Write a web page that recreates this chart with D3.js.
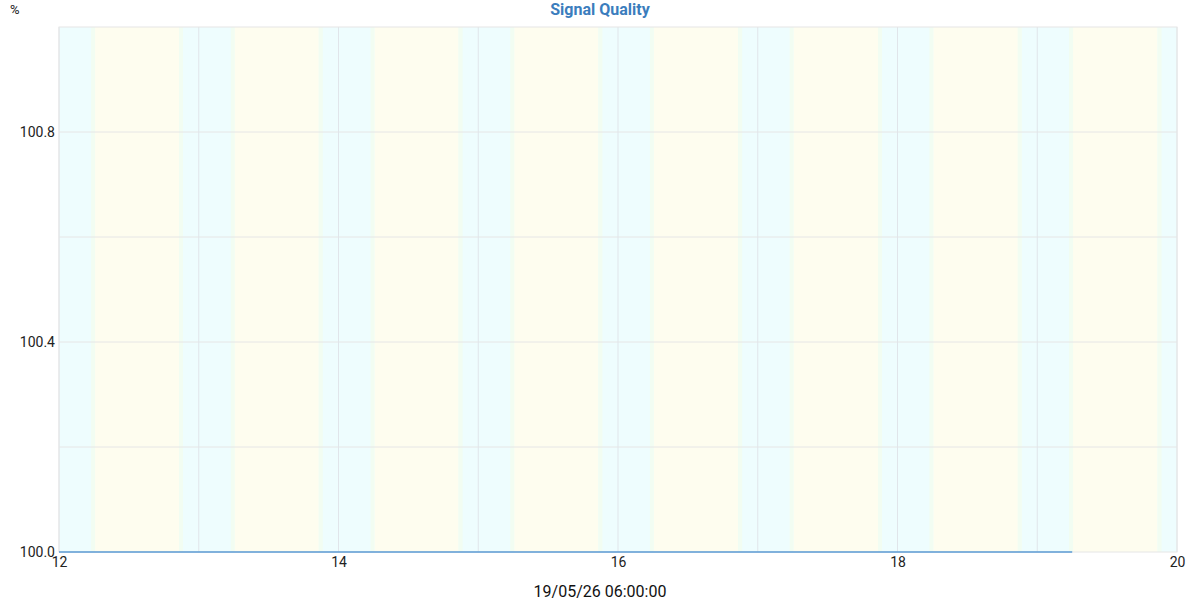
<!DOCTYPE html>
<html>
<head>
<meta charset="utf-8">
<script src="https://cdn.jsdelivr.net/npm/d3@7"></script>
<style>
  body { margin: 0; background: #fff; }
  svg { font-family: Roboto, "Noto Sans", sans-serif; }
</style>
</head>
<body>
<svg id="chart" width="1200" height="600"></svg>
<script>
// chart data
var title = 'Signal Quality';
var unit = '%';
var xLabel = '19/05/26 06:00:00';
var xDomain = ['2026-05-12T00:00:00', '2026-05-20T00:00:00'];
var xTickDays = ['2026-05-12', '2026-05-14', '2026-05-16', '2026-05-18', '2026-05-20'];
var yDomain = [100, 101];
var yLabelTicks = [100.0, 100.4, 100.8];
var yGridTicks = [100.2, 100.4, 100.6, 100.8];

// day/night bands (hours, local)
var bandDays = ['2026-05-11', '2026-05-12', '2026-05-13', '2026-05-14', '2026-05-15',
                '2026-05-16', '2026-05-17', '2026-05-18', '2026-05-19'];
var sunrise = [6.2, 6.2, 6.2, 6.2, 6.18, 6.17, 6.17, 6.16, 6.15];
var sunset = [20.6, 20.6, 20.62, 20.63, 20.63, 20.64, 20.65, 20.66, 20.67];

// series
var sampleTimes = ['2026-05-12T00:00:00', '2026-05-13T00:00:00', '2026-05-14T00:00:00',
                   '2026-05-15T00:00:00', '2026-05-16T00:00:00', '2026-05-17T00:00:00',
                   '2026-05-18T00:00:00', '2026-05-19T00:00:00', '2026-05-19T06:00:00'];
var quality = [100, 100, 100, 100, 100, 100, 100, 100, 100];

var margin = { top: 27, right: 23, bottom: 48, left: 59 };
var width = 1200 - margin.left - margin.right;
var height = 600 - margin.top - margin.bottom;

var svg = d3.select('#chart');
var defs = svg.append('defs');
defs.append('clipPath').attr('id', 'plot-clip')
  .append('rect').attr('width', width).attr('height', height);

var g = svg.append('g').attr('transform', 'translate(' + margin.left + ',' + margin.top + ')');

var parse = d3.isoParse;
var toDate = function(d) { return new Date(d + (d.length === 10 ? 'T00:00:00' : '')); };
var x = d3.scaleTime().domain(xDomain.map(toDate)).range([0, width]);
var y = d3.scaleLinear().domain(yDomain).range([height, 0]);

var night = '#eefdfe', day = '#fefdef', dusk = '#f2fdf2';

// background night
var bands = g.append('g').attr('clip-path', 'url(#plot-clip)');
bands.append('rect').attr('width', width).attr('height', height).attr('fill', night);

function at(dayStr, h) {
  return d3.timeMinute.offset(toDate(dayStr), Math.round(h * 60));
}

var fade = 4; // px of twilight blend
bandDays.forEach(function(dd, i) {
  var x0 = x(at(dd, sunrise[i]));
  var x1 = x(at(dd, sunset[i]));
  bands.append('rect').attr('x', x0 - fade).attr('width', fade)
    .attr('y', 0).attr('height', height).attr('fill', dusk);
  bands.append('rect').attr('x', x0).attr('width', x1 - x0)
    .attr('y', 0).attr('height', height).attr('fill', day);
  bands.append('rect').attr('x', x1).attr('width', fade)
    .attr('y', 0).attr('height', height).attr('fill', dusk);
});

// grid
var grid = g.append('g');
grid.selectAll('.hgrid').data(yGridTicks).enter().append('line')
  .attr('x1', 0).attr('x2', width)
  .attr('y1', function(d) { return y(d); }).attr('y2', function(d) { return y(d); })
  .attr('stroke', '#e6e6e6').attr('stroke-width', 1);
grid.selectAll('.vgrid').data(x.ticks(d3.timeDay.every(1))).enter().append('line')
  .attr('x1', function(d) { return x(d); }).attr('x2', function(d) { return x(d); })
  .attr('y1', 0).attr('y2', height)
  .attr('stroke', '#e0e5ea').attr('stroke-width', 1);

g.append('rect').attr('width', width).attr('height', height)
  .attr('fill', 'none').attr('stroke', '#e6e6e6').attr('stroke-width', 1);

// line
var line = d3.line()
  .x(function(d) { return x(d.t); })
  .y(function(d) { return y(d.v); });
var series = sampleTimes.map(function(t, i) { return { t: parse(t), v: quality[i] }; });
g.append('path').datum(series)
  .attr('d', line).attr('fill', 'none')
  .attr('stroke', '#5b9bd5').attr('stroke-width', 1.5);

// axes
var xAxis = d3.axisBottom(x).tickValues(xTickDays.map(toDate)).tickSize(0).tickPadding(5)
  .tickFormat(d3.timeFormat('%-d'));
var gx = g.append('g').attr('transform', 'translate(0,' + height + ')').call(xAxis);
gx.select('.domain').remove();
gx.selectAll('text').attr('font-size', 14).attr('fill', '#222').attr('font-family', 'Roboto');

var yAxis = d3.axisLeft(y).tickValues(yLabelTicks).tickSize(0).tickPadding(4)
  .tickFormat(d3.format('.1f'));
var gy = g.append('g').call(yAxis);
gy.select('.domain').remove();
gy.selectAll('text').attr('font-size', 14).attr('fill', '#222').attr('font-family', 'Roboto');

// labels
svg.append('text').attr('x', 600).attr('y', 15).attr('text-anchor', 'middle')
  .attr('font-size', 16).attr('font-weight', 'bold').attr('fill', '#3b7dbd')
  .text(title);
svg.append('text').attr('x', 10).attr('y', 14)
  .attr('font-size', 13).attr('fill', '#222').text(unit);
svg.append('text').attr('x', 600).attr('y', 597).attr('text-anchor', 'middle')
  .attr('font-size', 16).attr('fill', '#111').text(xLabel);
</script>
</body>
</html>
